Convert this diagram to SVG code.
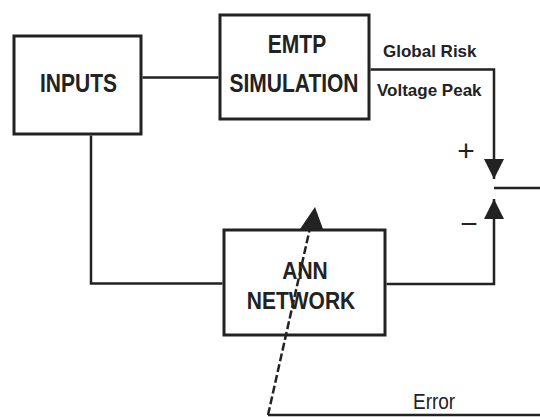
<svg xmlns="http://www.w3.org/2000/svg" width="540" height="417" viewBox="0 0 540 417">
<style>
.box{fill:#fff;stroke:#222;stroke-width:3}
.ln{fill:none;stroke:#222;stroke-width:2.5}
.big{font-family:"Liberation Sans",Arial,sans-serif;font-weight:bold;font-size:21px;fill:#222;text-anchor:middle}
.lbl{font-family:"Liberation Sans",Arial,sans-serif;font-weight:bold;font-size:17px;fill:#222}
.sm{font-family:"Liberation Sans",Arial,sans-serif;font-size:19px;fill:#222}
.sign{font-family:"Liberation Sans",Arial,sans-serif;font-size:30px;fill:#222;text-anchor:middle}
.head{fill:#222}
</style>
<defs>
<marker id="arr" markerWidth="22" markerHeight="20" refX="20" refY="10" orient="auto" markerUnits="userSpaceOnUse">
<path d="M0,0 L20,10 L0,20 Z" class="head"/>
</marker>
</defs>
<rect width="540" height="417" fill="#fff"/>
<g id="inputs">
<rect class="box" x="14" y="36" width="127" height="98"/>
<text class="big" transform="translate(78.5,92) scale(1,1.25)">INPUTS</text>
</g>
<g id="emtp">
<rect class="box" x="220" y="15" width="149" height="104"/>
<text class="big" transform="translate(297,53) scale(1,1.25)">EMTP</text>
<text class="big" transform="translate(294,92) scale(1,1.25)">SIMULATION</text>
</g>
<g id="ann">
<rect class="box" x="224" y="230" width="161" height="105"/>
<text class="big" transform="translate(305,279) scale(1,1.15)">ANN</text>
<text class="big" transform="translate(301,309) scale(1,1.15)">NETWORK</text>
</g>
<g id="connectors">
<path class="ln" d="M142.5,77.5 H218.5"/>
<path class="ln" d="M370.5,69.5 H494 V179" marker-end="url(#arr)"/>
<path class="ln" d="M91,135.5 V283.5 H222.5"/>
<path class="ln" d="M386.5,284 H494 V199" marker-end="url(#arr)"/>
<path class="ln" d="M494,188 H540"/>
<path class="ln" d="M540,415 H268"/>
<path class="ln" d="M268,415 L310,228" stroke-dasharray="8,3"/>
<path class="head" d="M315,207 L323,229 L300,229 Z"/>
</g>
<g id="labels">
<text class="lbl" x="383" y="57">Global Risk</text>
<text class="lbl" x="377" y="96">Voltage Peak</text>
<text class="sm" transform="translate(413,409) scale(1,1.2)">Error</text>
<text class="sign" x="466" y="161">+</text>
<text class="sign" x="469" y="234">−</text>
</g>
</svg>
